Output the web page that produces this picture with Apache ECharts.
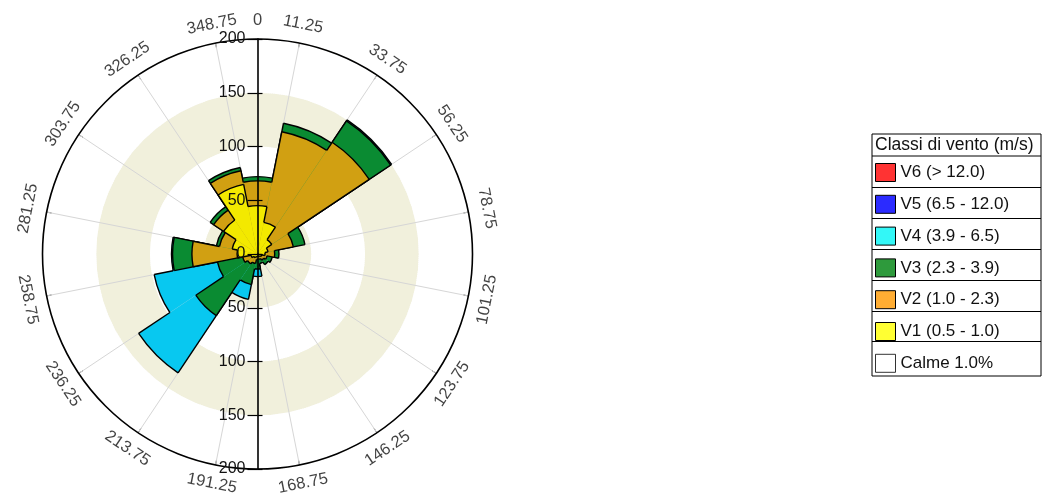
<!DOCTYPE html>
<html>
<head>
<meta charset="utf-8">
<title>Rosa dei venti</title>
<script src="https://cdn.jsdelivr.net/npm/echarts@6/dist/echarts.min.js"></script>
<style>
  html, body { margin: 0; padding: 0; background: #fff; }
  #main { width: 1052px; height: 493px; }
</style>
</head>
<body>
<div id="main"></div>
<script>
// settori di direzione (16 da 22.5 gradi, il primo centrato sul nord)
var settori = ['N', 'NNE', 'NE', 'ENE', 'E', 'ESE', 'SE', 'SSE', 'S', 'SSW', 'SW', 'WSW', 'W', 'WNW', 'NW', 'NNW'];

// valori per classe di vento
var v1 = [45, 30, 16, 10, 7, 4, 3, 2, 2, 3, 4, 6, 19, 24, 38, 66];
var v2 = [23, 86, 109, 24, 9, 5, 4, 3, 3, 6, 7, 8, 42, 12, 11, 13];
var v3 = [4, 8, 24, 11, 4, 5, 5, 4, 9, 20, 58, 24, 18, 3, 4, 3];
var v4 = [0, 0, 1, 0, 0, 0, 0, 0, 7, 14, 64, 60, 1, 0, 0, 0];
var v5 = [0, 0, 0, 0, 0, 0, 0, 0, 0, 0, 0, 0, 0, 0, 0, 0];
var v6 = [0, 0, 0, 0, 0, 0, 0, 0, 0, 0, 0, 0, 0, 0, 0, 0];

var nomiClassi = ['V1 (0.5 - 1.0)', 'V2 (1.0 - 2.3)', 'V3 (2.3 - 3.9)', 'V4 (3.9 - 6.5)', 'V5 (6.5 - 12.0)', 'V6 (> 12.0)'];
var nomeCalme = 'Calme 1.0%';

// etichette
var tickRaggio = [0, 50, 100, 150, 200];
var etichetteAngolo = ['0', '11.25', '33.75', '56.25', '78.75', '101.25', '123.75', '146.25', '168.75',
  '191.25', '213.75', '236.25', '258.75', '281.25', '303.75', '326.25', '348.75'];

var coloriPetali = ['#f3e900', '#d1a012', '#0a8b32', '#08c8f0', '#2020e0', '#e82020'];
var coloriLegenda = ['#ffff33', '#ffad33', '#2e9a3c', '#33f7f7', '#2b2bff', '#ff3333'];

var font = "'Liberation Sans', Arial, sans-serif";
var centro = [257.5, 254];

var myChart = echarts.init(document.getElementById('main'));

// cumulati (V1, V1+V2, ...) per disegnare i petali dall'esterno verso l'interno
var classi = [v1, v2, v3, v4, v5, v6];
var cumulati = [];
var somma = settori.map(function () { return 0; });
classi.forEach(function (v) {
  somma = somma.map(function (s, i) { return s + v[i]; });
  cumulati.push(somma.slice());
});

function disegnaPetalo(colore) {
  return function (params, api) {
    if (!(api.value(4) > 0)) return;
    var cx = params.coordSys.cx, cy = params.coordSys.cy;
    var idx = api.value(1);
    var p = api.coord([api.value(0), idx]);
    var r = p[2], a = p[3];
    var bw = api.size([0, 1])[1];
    if (!isFinite(bw)) bw = 2 * Math.PI / settori.length;
    var mezzo = bw / 2;
    var rPrec = api.coord([api.value(2), idx])[2];
    var rSucc = api.coord([api.value(3), idx])[2];
    var tratto = { stroke: '#000', lineWidth: 1.4, fill: null };
    var figli = [{
      type: 'sector',
      shape: { cx: cx, cy: cy, r0: 0, r: r, startAngle: -a - mezzo, endAngle: -a + mezzo, clockwise: true },
      style: { fill: colore }
    }, {
      type: 'arc',
      shape: { cx: cx, cy: cy, r: r, startAngle: -a - mezzo, endAngle: -a + mezzo, clockwise: true },
      style: tratto
    }];
    function lato(ang, r1, r2) {
      return {
        type: 'line',
        shape: {
          x1: cx + r1 * Math.cos(ang), y1: cy - r1 * Math.sin(ang),
          x2: cx + r2 * Math.cos(ang), y2: cy - r2 * Math.sin(ang)
        },
        style: tratto
      };
    }
    if (r > rPrec) figli.push(lato(a + mezzo, rPrec, r));
    if (r > rSucc) figli.push(lato(a - mezzo, rSucc, r));
    return { type: 'group', children: figli };
  };
}

var series = [];
for (var k = classi.length - 1; k >= 0; k--) {
  var c = cumulati[k], n = settori.length;
  series.push({
    type: 'custom',
    name: nomiClassi[k],
    coordinateSystem: 'polar',
    polarIndex: 0,
    silent: true,
    animation: false,
    itemStyle: { color: coloriPetali[k] },
    renderItem: disegnaPetalo(coloriPetali[k]),
    data: c.map(function (val, i) {
      return [val, i, c[(i + n - 1) % n], c[(i + 1) % n], classi[k][i]];
    })
  });
}

// ruota le etichette dell'asse angolare in modo tangente
function rotazione(a) {
  var r = a < 90 ? a : (a < 270 ? a - 180 : a - 360);
  return -r;
}
series.push({
  type: 'scatter',
  coordinateSystem: 'polar',
  polarIndex: 3,
  silent: true,
  clip: false,
  symbolSize: 1,
  itemStyle: { color: 'rgba(0,0,0,0)' },
  label: {
    show: true, position: 'inside', fontSize: 16.5, color: '#111', fontFamily: font,
    formatter: function (p) { return etichetteAngolo[p.dataIndex]; }
  },
  data: etichetteAngolo.map(function (t) {
    var a = parseFloat(t);
    return { value: [1, a], label: { rotate: rotazione(a) } };
  })
});
series.push({ type: 'scatter', name: nomeCalme, coordinateSystem: 'polar', polarIndex: 3, data: [] });

var legTop = 163, legPasso = 30.8, legIcona = 18;
var legData = [];
for (var j = nomiClassi.length - 1; j >= 0; j--) {
  legData.push({ name: nomiClassi[j], icon: 'rect', itemStyle: { color: coloriLegenda[j], borderColor: '#000', borderWidth: 1 } });
}
legData.push({ name: nomeCalme, icon: 'rect', itemStyle: { color: '#fff', borderColor: '#000', borderWidth: 1 } });

// cornice della legenda
var grafica = [
  { type: 'rect', shape: { x: 872, y: 134, width: 169, height: 242 }, style: { fill: null, stroke: '#000', lineWidth: 1 } },
  { type: 'line', shape: { x1: 872, y1: 156, x2: 1041, y2: 156 }, style: { stroke: '#000', lineWidth: 1 } },
  { type: 'text', x: 875, y: 145, style: { text: 'Classi di vento (m/s)', fontSize: 17.5, fontFamily: font, fill: '#111', verticalAlign: 'middle' } }
];
for (var d = 1; d < legData.length; d++) {
  var yy = Math.round(legTop + legPasso * d - (legPasso - legIcona) / 2) + 0.5;
  grafica.push({ type: 'line', shape: { x1: 872, y1: yy, x2: 1041, y2: yy }, style: { stroke: '#000', lineWidth: 1 } });
}

// asse verticale: su (1) e giu (2) con etichette, piu' i tratti corti dall'altro lato (4, 5)
function asseRaggio(idx, opz) {
  return {
    polarIndex: idx, min: tickRaggio[0], max: tickRaggio[tickRaggio.length - 1], interval: tickRaggio[1] - tickRaggio[0], z: 10,
    axisLine: { show: opz.linea, lineStyle: { color: '#000', width: 1.6 } },
    axisTick: { show: true, length: opz.tick, lineStyle: { color: '#000', width: 1.2 } },
    axisLabel: {
      show: opz.etichette, fontSize: 16, color: '#111', fontFamily: font,
      margin: opz.margine, align: opz.allinea, showMinLabel: opz.minimo
    },
    splitLine: { show: false },
    splitArea: { show: false }
  };
}

var option = {
  backgroundColor: '#fff',
  animation: false,
  textStyle: { fontFamily: font },
  polar: [
    { center: centro, radius: 215 },
    { center: centro, radius: 215 },
    { center: centro, radius: 215 },
    { center: centro, radius: 234 },
    { center: centro, radius: 215 },
    { center: centro, radius: 215 }
  ],
  angleAxis: [
    {
      polarIndex: 0, type: 'category', data: settori, startAngle: 101.25, clockwise: true, boundaryGap: true,
      axisLine: { show: true, lineStyle: { color: '#000', width: 1.6 } },
      axisTick: { show: true, inside: true, length: 5, interval: 0, lineStyle: { color: '#333' } },
      axisLabel: { show: false },
      splitLine: { show: true, interval: 0, lineStyle: { color: '#d6d6d6', width: 1 } },
      splitArea: { show: false }
    },
    { polarIndex: 1, type: 'value', min: 0, max: 360, startAngle: 90, show: false },
    { polarIndex: 2, type: 'value', min: 0, max: 360, startAngle: 270, show: false },
    { polarIndex: 3, type: 'value', min: 0, max: 360, startAngle: 90, clockwise: true, show: false },
    { polarIndex: 4, type: 'value', min: 0, max: 360, startAngle: 90, show: false },
    { polarIndex: 5, type: 'value', min: 0, max: 360, startAngle: 270, show: false }
  ],
  radiusAxis: [
    {
      polarIndex: 0, min: tickRaggio[0], max: tickRaggio[tickRaggio.length - 1], interval: tickRaggio[1] - tickRaggio[0],
      axisLine: { show: false }, axisTick: { show: false }, axisLabel: { show: false },
      splitLine: { show: true, lineStyle: { color: '#e3e2cf', type: 'dotted' } },
      splitArea: { show: true, areaStyle: { color: ['#f1f0dc', '#ffffff'] } }
    },
    asseRaggio(1, { linea: true, tick: 10, etichette: true, margine: 12, allinea: 'right', minimo: true }),
    asseRaggio(2, { linea: true, tick: -10, etichette: true, margine: -12, allinea: 'right', minimo: false }),
    { polarIndex: 3, min: 0, max: 1, show: false },
    asseRaggio(4, { linea: false, tick: -5, etichette: false, margine: 8, allinea: 'right', minimo: false }),
    asseRaggio(5, { linea: false, tick: 5, etichette: false, margine: 8, allinea: 'right', minimo: false })
  ],
  legend: {
    orient: 'vertical', left: 875, top: legTop, padding: 0,
    itemWidth: 20, itemHeight: legIcona, itemGap: legPasso - legIcona,
    selectedMode: false,
    textStyle: { fontSize: 17, color: '#111', fontFamily: font },
    data: legData
  },
  graphic: grafica,
  series: series
};

myChart.setOption(option);
</script>
</body>
</html>
